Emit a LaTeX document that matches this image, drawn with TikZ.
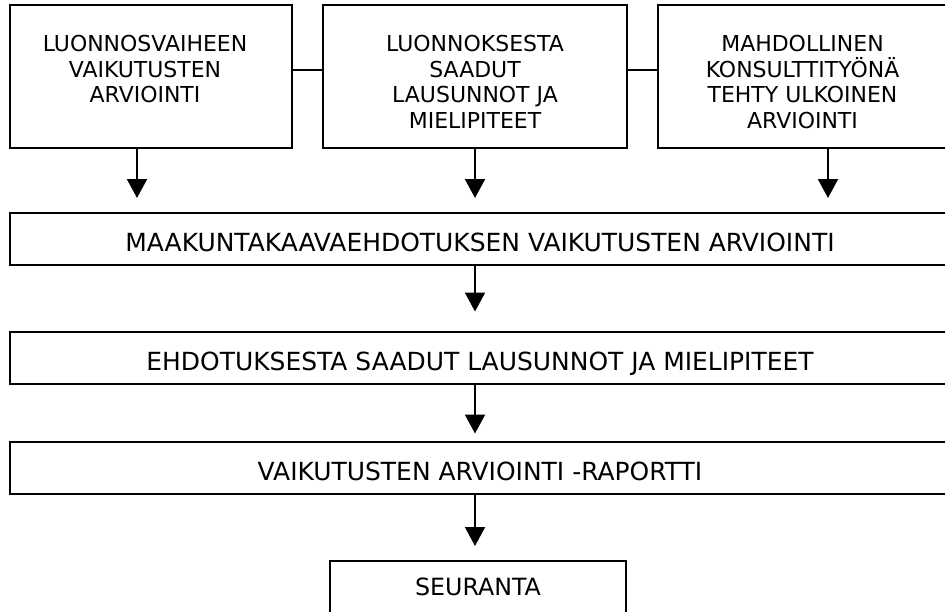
\documentclass[tikz,border=0pt]{standalone}
\usepackage{fontspec}
\setmainfont{DejaVu Sans}
\usetikzlibrary{arrows.meta}

\tikzstyle{box} = [draw, rectangle, line width=0.4mm, inner sep=0pt]
\tikzstyle{topbox} = [box, minimum height=28.6mm]
\tikzstyle{widebox} = [box, minimum width=188mm, minimum height=10.4mm, text height=5.1mm, text depth=0mm, font=\fontsize{14.2}{16}\selectfont]
\tikzstyle{txt} = [align=center, anchor=north, inner sep=0pt, font=\fontsize{12.5}{14.6}\selectfont]
\tikzstyle{line} = [draw, line width=0.4mm, -{Triangle[length=3.8mm,width=4mm]}]

\begin{document}
\begin{tikzpicture}[x=0.2mm,y=-0.2mm]
\useasboundingbox (0,0) rectangle (945,611);
\clip (0,0) rectangle (945,611);
% top row
\node[topbox, minimum width=56.4mm] (luonnos) at (151,76.5) {};
\node[topbox, minimum width=60.8mm] (lausunto) at (475,76.5) {};
\node[topbox, minimum width=57.8mm] (konsultti) at (802.5,76.5) {};
\node[txt] (luonnosTxt) at ([xshift=-1.2mm,yshift=-6.2mm]luonnos.north) {LUONNOSVAIHEEN\\VAIKUTUSTEN\\ARVIOINTI};
\node[txt] (lausuntoTxt) at ([yshift=-6.2mm]lausunto.north) {LUONNOKSESTA\\SAADUT\\LAUSUNNOT JA\\MIELIPITEET};
\node[txt] (konsulttiTxt) at ([yshift=-6.2mm]konsultti.north) {MAHDOLLINEN\\KONSULTTITYÖNÄ\\TEHTY ULKOINEN\\ARVIOINTI};
\draw[line width=0.4mm] ([yshift=1.3mm]luonnos.east) -- ([yshift=1.3mm]lausunto.west);
\draw[line width=0.4mm] ([yshift=1.3mm]lausunto.east) -- ([yshift=1.3mm]konsultti.west);
% wide boxes
\node[widebox] (ehdotus) at (480,239) {MAAKUNTAKAAVAEHDOTUKSEN VAIKUTUSTEN ARVIOINTI};
\node[widebox] (palaute) at (480,357.5) {EHDOTUKSESTA SAADUT LAUSUNNOT JA MIELIPITEET};
\node[widebox] (raportti) at (480,467.5) {VAIKUTUSTEN ARVIOINTI -RAPORTTI};
\node[box, minimum width=59.2mm, minimum height=10.4mm, font=\fontsize{13.5}{16}\selectfont] (seuranta) at (478,587) {SEURANTA};
% arrows
\draw[line, shorten >=2.8mm] ([xshift=-2.8mm]luonnos.south) -- ([xshift=-2.8mm]luonnos.south |- ehdotus.north);
\draw[line, shorten >=2.8mm] (lausunto.south) -- (lausunto.south |- ehdotus.north);
\draw[line, shorten >=2.8mm] ([xshift=5.1mm]konsultti.south) -- ([xshift=5.1mm]konsultti.south |- ehdotus.north);
\draw[line, shorten >=3.8mm] (ehdotus.south -| lausunto.south) -- (palaute.north -| lausunto.south);
\draw[line, shorten >=1.4mm] (palaute.south -| lausunto.south) -- (raportti.north -| lausunto.south);
\draw[line, shorten >=2.8mm] (raportti.south -| lausunto.south) -- (seuranta.north -| lausunto.south);
\end{tikzpicture}
\end{document}
